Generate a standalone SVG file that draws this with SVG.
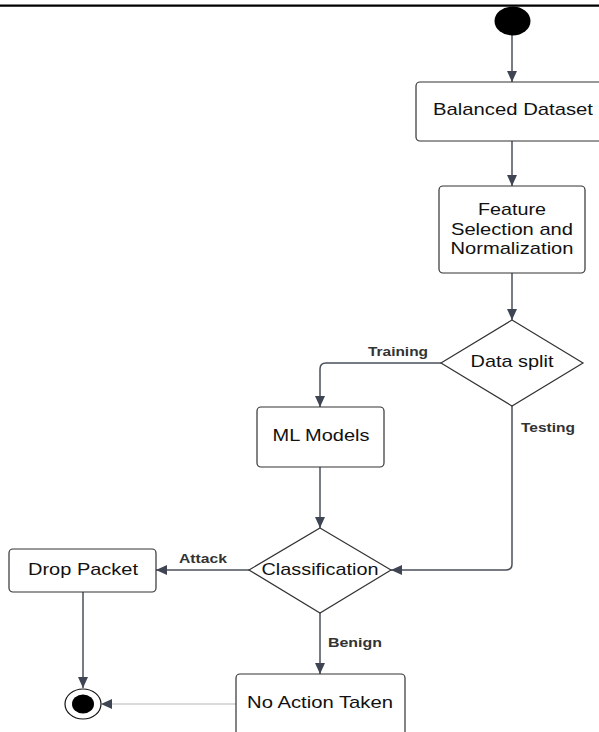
<svg xmlns="http://www.w3.org/2000/svg" width="599" height="732" viewBox="0 0 599 732">
<style>
.box{fill:#fff;stroke:#333;stroke-width:1.2}
.t{font-family:"Liberation Sans",Arial,sans-serif;font-size:17px;fill:#111;text-anchor:middle}
.l{font-family:"Liberation Sans",Arial,sans-serif;font-size:13.5px;font-weight:bold;fill:#333;text-anchor:middle}
.c{fill:none;stroke:#4a4f5a;stroke-width:1.5}
.g{fill:none;stroke:#b8b8b8;stroke-width:1.2}
</style>
<defs>
<marker id="a" markerUnits="userSpaceOnUse" markerWidth="12" markerHeight="10" refX="11" refY="5" orient="auto">
<path d="M0,0 L11,5 L0,10 z" fill="#3f4552"/>
</marker>
</defs>
<line x1="0" y1="5.7" x2="599" y2="5.7" stroke="#000" stroke-width="2.2"/>
<g id="connectors">
<path class="c" d="M512,35 V82" marker-end="url(#a)"/>
<path class="c" d="M512,141 V186" marker-end="url(#a)"/>
<path class="c" d="M512,273 V320" marker-end="url(#a)"/>
<path class="c" d="M441,363 H326 Q320,363 320,369 V407" marker-end="url(#a)"/>
<path class="c" d="M512,406 V564 Q512,570 506,570 H391" marker-end="url(#a)"/>
<path class="c" d="M320,467 V528" marker-end="url(#a)"/>
<path class="c" d="M249,570 H156" marker-end="url(#a)"/>
<path class="c" d="M320,613 V674" marker-end="url(#a)"/>
<path class="c" d="M83,592 V688" marker-end="url(#a)"/>
<path class="g" d="M236,704 H102"/>
<path d="M101,704 L112,699 L112,709 z" fill="#3f4552"/>
<text class="l" x="398" y="356" textLength="60" lengthAdjust="spacingAndGlyphs">Training</text>
<text class="l" x="548" y="432" textLength="54" lengthAdjust="spacingAndGlyphs">Testing</text>
<text class="l" x="203" y="563" textLength="48" lengthAdjust="spacingAndGlyphs">Attack</text>
<text class="l" x="355" y="647" textLength="54" lengthAdjust="spacingAndGlyphs">Benign</text>
</g>
<g id="start">
<ellipse cx="512.5" cy="21" rx="18" ry="14.5" fill="#000"/>
</g>
<g id="balanced-dataset">
<rect class="box" x="416" y="82" width="200" height="59" rx="4"/>
<text class="t" x="513" y="115" textLength="160" lengthAdjust="spacingAndGlyphs">Balanced Dataset</text>
</g>
<g id="feature-selection">
<rect class="box" x="439" y="186" width="146" height="87" rx="4"/>
<text class="t" x="512" y="215" textLength="68" lengthAdjust="spacingAndGlyphs">Feature</text>
<text class="t" x="512" y="235" textLength="122" lengthAdjust="spacingAndGlyphs">Selection and</text>
<text class="t" x="512" y="254" textLength="123" lengthAdjust="spacingAndGlyphs">Normalization</text>
</g>
<g id="data-split">
<polygon class="box" points="512,320 583,363 512,406 441,363"/>
<text class="t" x="512" y="367" textLength="83" lengthAdjust="spacingAndGlyphs">Data split</text>
</g>
<g id="ml-models">
<rect class="box" x="257" y="407" width="127" height="60" rx="4"/>
<text class="t" x="321" y="441" textLength="97" lengthAdjust="spacingAndGlyphs">ML Models</text>
</g>
<g id="classification">
<polygon class="box" points="320,528 391,570 320,613 249,570"/>
<text class="t" x="320" y="575" textLength="117" lengthAdjust="spacingAndGlyphs">Classification</text>
</g>
<g id="drop-packet">
<rect class="box" x="9" y="549" width="147" height="43" rx="4"/>
<text class="t" x="83" y="575" textLength="110" lengthAdjust="spacingAndGlyphs">Drop Packet</text>
</g>
<g id="no-action">
<rect class="box" x="236" y="674" width="169" height="70" rx="4"/>
<text class="t" x="320" y="708" textLength="146" lengthAdjust="spacingAndGlyphs">No Action Taken</text>
</g>
<g id="end">
<ellipse cx="83" cy="704" rx="18" ry="15" fill="#fff" stroke="#111" stroke-width="1.2"/>
<ellipse cx="83" cy="704" rx="11" ry="9.5" fill="#000"/>
</g>
</svg>
